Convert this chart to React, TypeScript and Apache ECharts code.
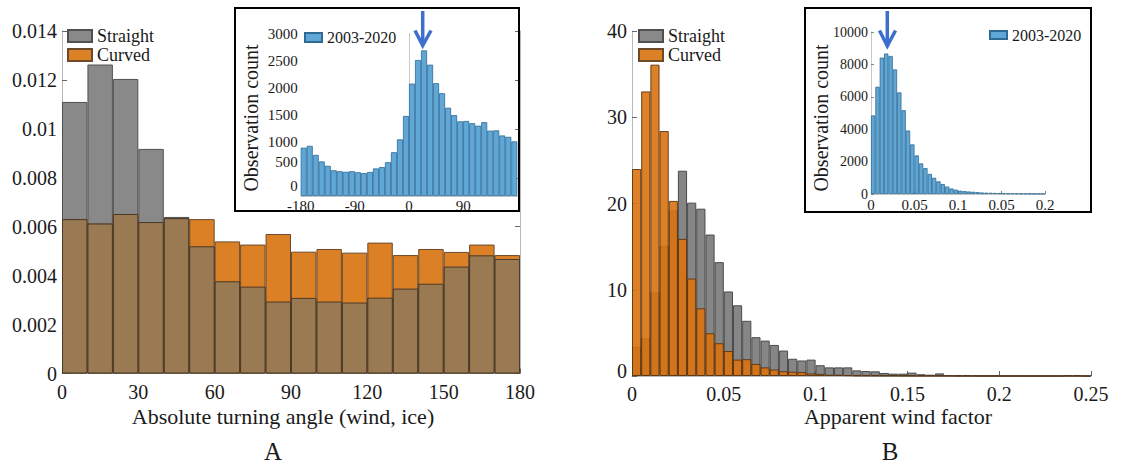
import React, { useEffect, useRef } from "react";
import * as echarts from "echarts";

const FONT = "'Liberation Serif', 'Times New Roman', serif";

// Panel A: density of absolute turning angle, 10-degree bins 0..180
const angleBinStarts = [0, 10, 20, 30, 40, 50, 60, 70, 80, 90, 100, 110, 120, 130, 140, 150, 160, 170];
const straightA = [0.0111, 0.01263, 0.01204, 0.00918, 0.0064, 0.0052, 0.00377, 0.00355, 0.00294, 0.00309, 0.00294, 0.0029, 0.0031, 0.00347, 0.00367, 0.00437, 0.00483, 0.00468];
const curvedA = [0.00631, 0.00613, 0.00652, 0.00619, 0.00635, 0.00631, 0.0054, 0.00527, 0.0057, 0.00498, 0.00509, 0.00494, 0.00535, 0.00484, 0.00509, 0.00497, 0.00527, 0.00484];

// Panel A inset: observation count of turning angle, 10-degree bins -180..180
const insetACounts = [892, 925, 758, 638, 558, 475, 457, 447, 457, 438, 422, 444, 509, 534, 623, 808, 1046, 1478, 2075, 2510, 2687, 2424, 2082, 1897, 1629, 1493, 1378, 1385, 1344, 1298, 1363, 1206, 1212, 1117, 1092, 1008];
const insetAYTicks = { min: 0, max: 3000, step: 500 };

// Panel B: density of apparent wind factor, bins of 0.005 from 0 to 0.25
const straightB = [3.4, 4.4, 9.7, 15.1, 19.2, 23.8, 20.1, 19.4, 16.4, 13.2, 9.8, 8.2, 6.4, 4.5, 4.1, 3.6, 2.95, 2.0, 1.8, 1.9, 1.25, 1.0, 1.0, 1.0, 0.65, 0.58, 0.54, 0.35, 0.27, 0.27, 0.39, 0.2, 0.15, 0.3, 0.1, 0.08, 0.08, 0.06, 0.03, 0.03, 0.02, 0.02, 0.02, 0.01, 0.01, 0.01, 0.01, 0.08, 0.08, 0.01];
const curvedB = [24.0, 33.0, 36.1, 28.4, 20.3, 15.9, 11.3, 7.85, 4.95, 3.8, 2.9, 1.9, 1.95, 1.4, 1.0, 0.75, 0.55, 0.5, 0.45, 0.3, 0.25, 0.15, 0.15, 0.1, 0.06, 0.05, 0.04, 0.03, 0.03, 0.02, 0.01, 0.01, 0.01, 0.01, 0.01, 0, 0, 0, 0, 0, 0, 0, 0, 0, 0, 0, 0, 0, 0, 0];

// Panel B inset: observation count of apparent wind factor, bins of 0.005 from 0 to 0.2
const insetBCounts = [4850, 6620, 8420, 8670, 8520, 7690, 6270, 5170, 3920, 3060, 2380, 1890, 1600, 1240, 1000, 780, 610, 460, 340, 268, 206, 175, 154, 134, 113, 92, 80, 75, 62, 58, 45, 40, 38, 35, 30, 25, 22, 20, 18, 15];
const insetBXTickLabels = ["0", "0.05", "0.1", "0.05", "0.2"];

const legendMain = ["Straight", "Curved"];
const legendInset = ["2003-2020"];

const GRAY = "#898989";
const ORANGE = "#dc8026";
const OVERLAP_A = "#9a7a52";
const BLUE = "#5ea7d7";
const ARROW = "#3d6fcd";
const INK = "#1a1a1a";

export default function App() {
  const ref = useRef<HTMLDivElement>(null);

  useEffect(() => {
    if (!ref.current) return;
    const chart = echarts.init(ref.current, undefined, { renderer: "svg" });

    const overlapA = straightA.map((s, i) => Math.min(s, curvedA[i]));
    const idx = (n: number) => Array.from({ length: n }, (_, i) => String(i));
    const plain = (v: number) => String(Number(v.toPrecision(6)));

    const label = (size: number, margin: number, extra: any = {}) => ({
      fontFamily: FONT,
      fontSize: size,
      color: INK,
      margin,
      formatter: plain,
      ...extra,
    });
    const lineMain = { show: true, lineStyle: { color: "#b8b8b8", width: 1 } };
    const lineInset = { show: true, lineStyle: { color: "#c8c8c8", width: 1 } };
    const tickIn = { show: true, inside: true, length: 5, lineStyle: { color: "#666" } };
    const tickInSmall = { show: true, inside: true, length: 3, lineStyle: { color: "#888" } };

    const hiddenCat = (gridIndex: number, n: number) => ({
      type: "category",
      gridIndex,
      position: "top",
      data: idx(n),
      show: false,
      boundaryGap: true,
    });

    const bar = (extra: any) => ({
      type: "bar",
      barWidth: "100%",
      barGap: "-100%",
      silent: true,
      ...extra,
    });

    const legendText = (size: number) => ({ fontFamily: FONT, fontSize: size, color: INK });

    const option: any = {
      animation: false,
      textStyle: { fontFamily: FONT },
      grid: [
        { left: 62, top: 31, width: 458, height: 342.5 },
        { left: 300.7, top: 33.5, width: 216.6, height: 162.5 },
        { left: 632, top: 31, width: 459, height: 345 },
        { left: 871, top: 32, width: 174, height: 162 },
      ],
      xAxis: [
        { ...hiddenCat(0, angleBinStarts.length), data: angleBinStarts.map(String) },
        {
          type: "value", gridIndex: 0, position: "bottom", min: 0, max: 180, interval: 30,
          axisLine: lineMain, axisTick: tickIn, splitLine: { show: false },
          axisLabel: label(20, 8),
        },
        hiddenCat(1, insetACounts.length),
        {
          type: "value", gridIndex: 1, position: "bottom", min: -180, max: 180, interval: 90,
          axisLine: lineInset, axisTick: { show: false }, splitLine: { show: false },
          axisLabel: label(15, 2, { formatter: (v: number) => (v >= 180 ? "" : String(v)) }),
        },
        hiddenCat(2, straightB.length),
        {
          type: "value", gridIndex: 2, position: "bottom", min: 0, max: 0.25, interval: 0.05,
          axisLine: lineMain, axisTick: tickIn, splitLine: { show: false },
          axisLabel: label(20, 8),
        },
        hiddenCat(3, insetBCounts.length),
        {
          type: "value", gridIndex: 3, position: "bottom", min: 0, max: 0.2, interval: 0.05,
          axisLine: lineInset, axisTick: tickInSmall, splitLine: { show: false },
          axisLabel: label(15, 3, {
            formatter: (v: number) => insetBXTickLabels[Math.round(v / 0.05)] ?? "",
          }),
        },
      ],
      yAxis: [
        {
          type: "value", gridIndex: 0, position: "left", min: 0, max: 0.014, interval: 0.002,
          axisLine: lineMain, axisTick: tickIn, splitLine: { show: false },
          axisLabel: label(20, 5),
        },
        {
          type: "value", gridIndex: 0, position: "right", min: 0, max: 0.014, interval: 0.002,
          axisLine: lineMain, axisTick: tickIn, splitLine: { show: false },
          axisLabel: { show: false },
        },
        {
          type: "value", gridIndex: 1, position: "left", min: insetAYTicks.min, max: insetAYTicks.max, interval: insetAYTicks.step,
          axisLine: lineInset, axisTick: { show: false }, splitLine: { show: false },
          axisLabel: label(15, 3, {
            formatter: (v: number) => (v === 0 ? "{z|0}" : v === 500 ? "{f|500}" : String(v)),
            rich: {
              z: { fontFamily: FONT, fontSize: 15, color: INK, padding: [0, 0, 20, 0] },
              f: { fontFamily: FONT, fontSize: 15, color: INK, padding: [0, 0, 14, 0] },
            },
          }),
        },
        {
          type: "value", gridIndex: 2, position: "left", min: 0, max: 40, interval: 10,
          axisLine: lineMain, axisTick: tickIn, splitLine: { show: false },
          axisLabel: label(20, 5, {
            formatter: (v: number) => (v === 0 ? "{z|0}" : String(v)),
            rich: { z: { fontFamily: FONT, fontSize: 20, color: INK, padding: [0, 0, 10, 0] } },
          }),
        },
        {
          type: "value", gridIndex: 3, position: "left", min: 0, max: 10000, interval: 2000,
          axisLine: lineInset, axisTick: tickInSmall, splitLine: { show: false },
          axisLabel: label(14, 3),
        },
      ],
      legend: [
        {
          left: 67, top: 27, orient: "vertical", padding: 0, itemGap: 1,
          itemWidth: 24, itemHeight: 12, icon: "rect", selectedMode: false,
          data: legendMain, textStyle: legendText(18),
        },
        {
          left: 638, top: 27, orient: "vertical", padding: 0, itemGap: 1,
          itemWidth: 24, itemHeight: 12, icon: "rect", selectedMode: false,
          data: legendMain, textStyle: legendText(18),
        },
        {
          left: 304, top: 29.5, padding: 0, itemWidth: 17, itemHeight: 9, icon: "rect",
          selectedMode: false, data: legendInset, textStyle: legendText(16),
        },
        {
          left: 989, top: 27, padding: 0, itemWidth: 17, itemHeight: 8, icon: "rect",
          selectedMode: false, data: legendInset, textStyle: legendText(16),
        },
      ],
      series: [
        // Panel A: straight drift behind, curved drift, shared part on top
        bar({ name: "Straight", xAxisIndex: 0, yAxisIndex: 0, data: straightA,
          itemStyle: { color: GRAY, borderColor: "#505050", borderWidth: 1 } }),
        bar({ name: "Curved", xAxisIndex: 0, yAxisIndex: 0, data: curvedA,
          itemStyle: { color: ORANGE, borderColor: "#6b4a2a", borderWidth: 1 } }),
        bar({ name: "Both", xAxisIndex: 0, yAxisIndex: 0, data: overlapA,
          itemStyle: { color: OVERLAP_A, borderColor: "#4a3a28", borderWidth: 1 } }),
        // Panel A inset
        bar({ name: "2003-2020", xAxisIndex: 2, yAxisIndex: 2, data: insetACounts,
          itemStyle: { color: BLUE, borderColor: "#2f6a94", borderWidth: 0.8 } }),
        // Panel B: straight behind, translucent curved in front
        bar({ name: "Straight", xAxisIndex: 4, yAxisIndex: 3, data: straightB,
          itemStyle: { color: "#868686", borderColor: "#4a4a4a", borderWidth: 1 } }),
        bar({ name: "Curved", xAxisIndex: 4, yAxisIndex: 3, data: curvedB,
          itemStyle: { color: "rgb(217,114,17)", opacity: 0.9, borderColor: "#5a3410", borderWidth: 1 } }),
        // Panel B inset
        bar({ name: "2003-2020", xAxisIndex: 6, yAxisIndex: 4, data: insetBCounts,
          itemStyle: { color: BLUE, borderColor: "#2f6a94", borderWidth: 0.8 } }),
      ],
      graphic: [
        { type: "rect", shape: { x: 235, y: 8, width: 284, height: 203 },
          style: { fill: "none", stroke: "#000", lineWidth: 2 }, z: 10 },
        { type: "rect", shape: { x: 805, y: 8, width: 286, height: 204 },
          style: { fill: "none", stroke: "#000", lineWidth: 2 }, z: 10 },
        { type: "text", x: 251, y: 118, rotation: Math.PI / 2,
          style: { text: "Observation count", fontFamily: FONT, fontSize: 20, fill: INK, align: "center", verticalAlign: "middle" } },
        { type: "text", x: 821, y: 118, rotation: Math.PI / 2,
          style: { text: "Observation count", fontFamily: FONT, fontSize: 20, fill: INK, align: "center", verticalAlign: "middle" } },
        { type: "text", x: 283, y: 416,
          style: { text: "Absolute turning angle (wind, ice)", fontFamily: FONT, fontSize: 22, fill: INK, align: "center", verticalAlign: "middle" } },
        { type: "text", x: 898, y: 416,
          style: { text: "Apparent wind factor", fontFamily: FONT, fontSize: 22, fill: INK, align: "center", verticalAlign: "middle" } },
        { type: "text", x: 273, y: 451,
          style: { text: "A", fontFamily: FONT, fontSize: 25, fill: INK, align: "center", verticalAlign: "middle" } },
        { type: "text", x: 890, y: 451,
          style: { text: "B", fontFamily: FONT, fontSize: 25, fill: INK, align: "center", verticalAlign: "middle" } },
        // peak markers
        { type: "line", shape: { x1: 422.7, y1: 11, x2: 422.7, y2: 44 },
          style: { stroke: ARROW, lineWidth: 3.5 }, z: 10 },
        { type: "polyline", shape: { points: [[415, 30.5], [422.7, 45.5], [431, 30.5]] },
          style: { stroke: ARROW, lineWidth: 3.5, fill: "none" }, z: 10 },
        { type: "line", shape: { x1: 887.3, y1: 11, x2: 887.3, y2: 45 },
          style: { stroke: ARROW, lineWidth: 3.5 }, z: 10 },
        { type: "polyline", shape: { points: [[879.5, 30.5], [887.3, 46], [895.5, 30.5]] },
          style: { stroke: ARROW, lineWidth: 3.5, fill: "none" }, z: 10 },
      ],
    };

    chart.setOption(option);
    return () => chart.dispose();
  }, []);

  return (
    <div
      ref={ref}
      style={{ position: "fixed", left: 0, top: 0, width: 1121, height: 466, background: "#fff" }}
    />
  );
}
